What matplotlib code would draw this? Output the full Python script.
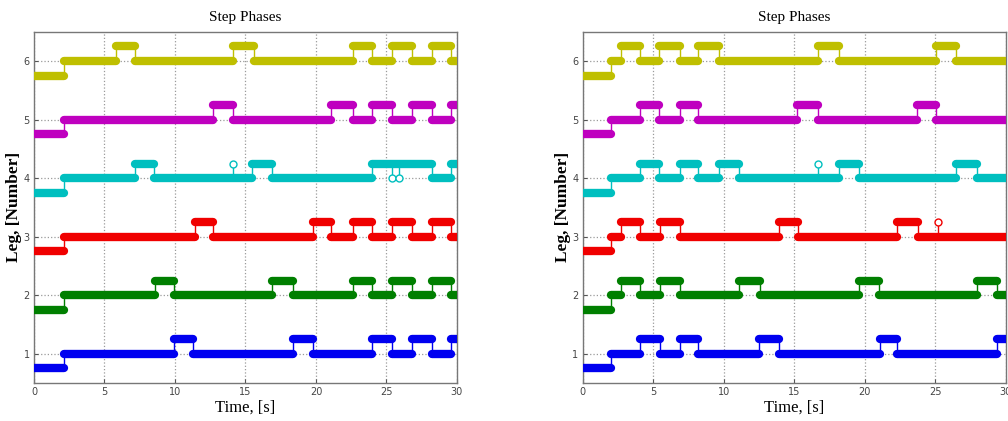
import matplotlib
matplotlib.use('Agg')
import matplotlib.pyplot as plt

# switch times per leg: start phase (-0.25) -> stance (0) -> swing (+0.25) -> stance ...
left_leg1 = [2.1, 9.9, 11.3, 18.4, 19.8, 24.0, 25.4, 26.8, 28.2, 29.6]
left_leg2 = [2.1, 8.6, 9.9, 16.9, 18.4, 22.6, 24.0, 25.4, 26.8, 28.2, 29.6]
left_leg3 = [2.1, 11.4, 12.7, 19.8, 21.1, 22.6, 24.0, 25.4, 26.8, 28.2, 29.6]
left_leg4 = [2.1, 7.2, 8.5, 15.5, 16.9, 24.0, 28.2, 29.6]
left_leg5 = [2.1, 12.7, 14.1, 21.1, 22.6, 24.0, 25.4, 26.8, 28.2, 29.6]
left_leg6 = [2.1, 5.8, 7.2, 14.1, 15.6, 22.6, 24.0, 25.4, 26.8, 28.2, 29.6]

right_leg1 = [2.0, 4.1, 5.5, 6.9, 8.2, 12.5, 13.9, 21.1, 22.3, 29.4]
right_leg2 = [2.0, 2.7, 4.1, 5.5, 6.9, 11.1, 12.6, 19.6, 21.0, 28.0, 29.4]
right_leg3 = [2.0, 2.7, 4.1, 5.5, 6.9, 13.9, 15.3, 22.3, 23.8]
right_leg4 = [2.0, 4.1, 5.4, 6.9, 8.2, 9.7, 11.1, 18.2, 19.6, 26.5, 28.0]
right_leg5 = [2.0, 4.1, 5.4, 6.9, 8.2, 15.2, 16.7, 23.7, 25.1]
right_leg6 = [2.0, 2.7, 4.1, 5.4, 6.9, 8.2, 9.7, 16.7, 18.2, 25.1, 26.5]

# stem markers: (leg, time, base, top)
left_stems = [(4, 14.1, 4.0, 4.25), (4, 25.4, 4.25, 4.0), (4, 25.9, 4.25, 4.0)]
right_stems = [(4, 16.7, 4.0, 4.25), (3, 25.2, 3.0, 3.25)]

leg_colors = {1: '#0000f0', 2: '#007f00', 3: '#f00000',
              4: '#00bfbf', 5: '#bf00bf', 6: '#bfbf00'}

t_end = 30

fig = plt.figure(figsize=(10.08, 4.21), dpi=100)
ax_l = fig.add_axes([0.0337, 0.0903, 0.4196, 0.834])
ax_r = fig.add_axes([0.578, 0.0903, 0.4196, 0.834])


def draw_leg(ax, leg, switches):
    col = leg_colors[leg]
    times = [0] + switches + [t_end]
    levels = [leg - 0.25]
    for i in range(len(switches)):
        levels.append(leg if i % 2 == 0 else leg + 0.25)
    # thin connecting step
    ax.step(times, levels + [levels[-1]], where='post', color=col, lw=1.0, zorder=3)
    for a, b, y in zip(times[:-1], times[1:], levels):
        ax.plot([a, b], [y, y], color=col, lw=6.0, solid_capstyle='round', zorder=4)


for ax, legs, stems in [
    (ax_l, [left_leg1, left_leg2, left_leg3, left_leg4, left_leg5, left_leg6], left_stems),
    (ax_r, [right_leg1, right_leg2, right_leg3, right_leg4, right_leg5, right_leg6], right_stems),
]:
    for i, sw in enumerate(legs):
        draw_leg(ax, i + 1, sw)
    for leg, t, base, top in stems:
        col = leg_colors[leg]
        ax.plot([t, t], [base, top], color=col, lw=1.0, zorder=5)
        ax.plot(t, top, 'o', mfc='white', mec=col, ms=5, mew=1.0, zorder=6)

    ax.set_xlim(0, 30)
    ax.set_ylim(0.5, 6.5)
    ax.set_xticks([0, 5, 10, 15, 20, 25, 30])
    ax.set_yticks([1, 2, 3, 4, 5, 6])
    ax.grid(True, linestyle=':', color='#9a9a9a', lw=0.9)
    ax.set_axisbelow(True)
    ax.tick_params(direction='in', length=3, labelsize=7, colors='#555555',
                   labelcolor='#444444', pad=3)
    for s in ax.spines.values():
        s.set_color('#777777')
        s.set_linewidth(1.0)
    ax.set_title('Step Phases', fontsize=11, family='Liberation Serif', pad=8)
    ax.set_xlabel('Time, [s]', fontsize=12, family='Liberation Serif', labelpad=2)
    ax.set_ylabel('Leg, [Number]', fontsize=12.5, family='Liberation Serif',
                  fontweight='semibold', labelpad=1)

fig.savefig('out.png', dpi=100)
